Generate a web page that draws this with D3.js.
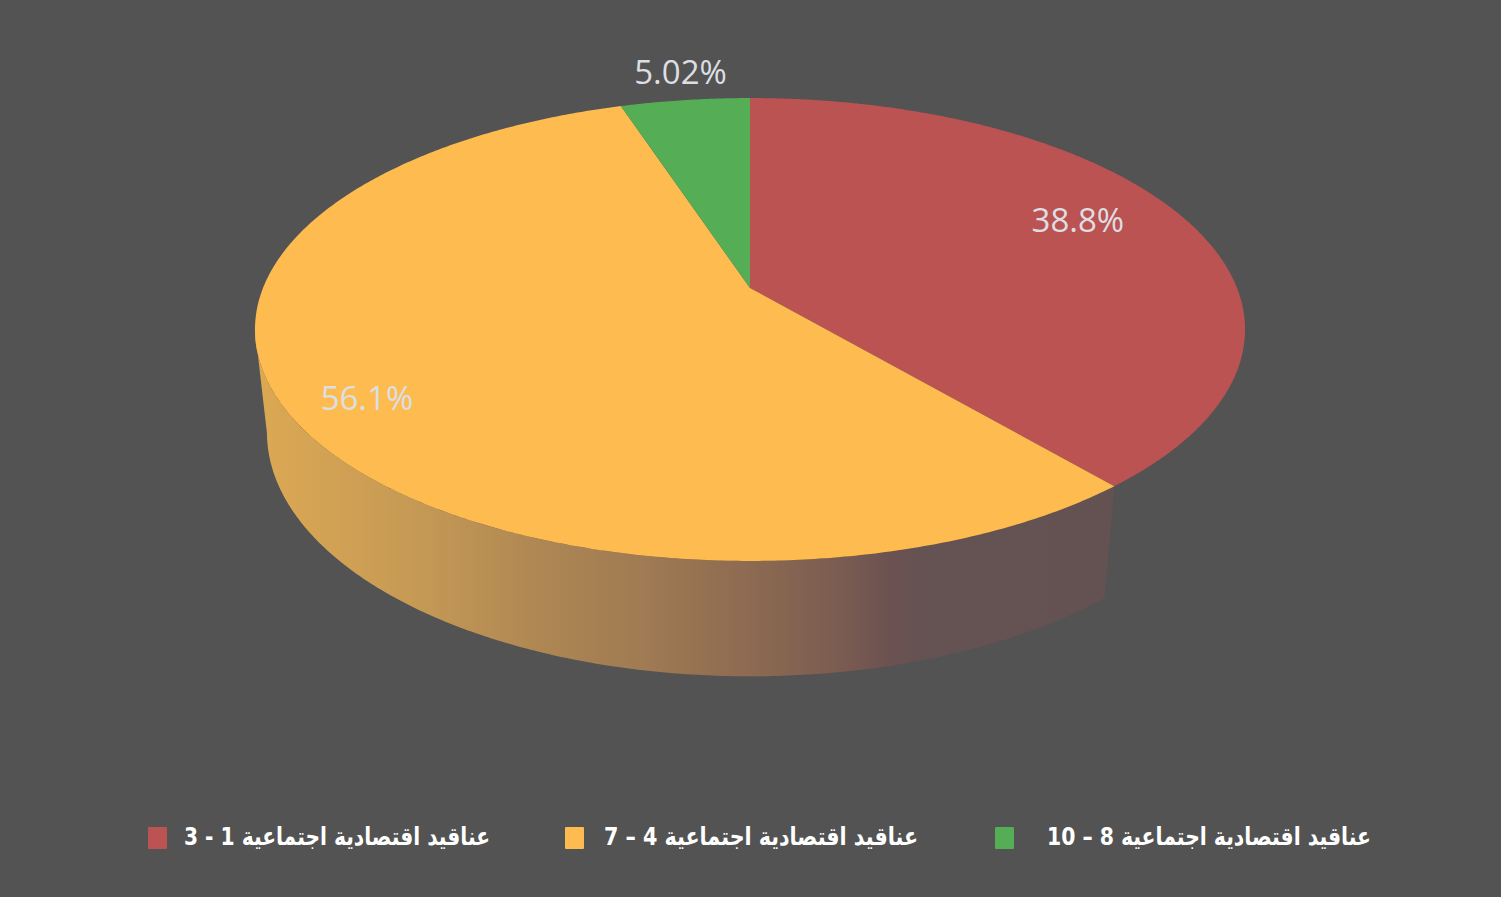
<!DOCTYPE html>
<html lang="ar">
<head>
<meta charset="utf-8">
<title>عناقيد اقتصادية اجتماعية</title>
<script src="https://cdn.jsdelivr.net/npm/d3@7/dist/d3.min.js"></script>
<style>
  html, body { margin: 0; padding: 0; background: #535353; overflow: hidden; }
  svg { display: block; }
</style>
</head>
<body>
<script>
// Share of each socio-economic cluster group
const categories = [
  "عناقيد اقتصادية اجتماعية 1 - 3",
  "عناقيد اقتصادية اجتماعية 4 – 7",
  "عناقيد اقتصادية اجتماعية 8 – 10"
];
const shares = [38.8, 56.1, 5.02];
const shareLabels = ["38.8%", "56.1%", "5.02%"];
const sliceColors = ["#bc5353", "#fdbb50", "#55ae55"];

const W = 1501, H = 897;
const svg = d3.select("body").append("svg").attr("width", W).attr("height", H);
svg.append("rect").attr("width", W).attr("height", H).attr("fill", "#535353");

// Perspective camera for the tilted disc: apex, disc radii, foreshortening,
// and the extra depth applied to the underside of the cylinder.
const cam = { cx: 750, cy: 288, rx: 487, ry: 224, k: 0.1793, drop: 104, m: 0.024 };

// Projects polar disc coordinates (clockwise from 12 o'clock) to the screen.
function project(theta, r = 1, z = 0) {
  const u = r * Math.sin(theta), v = r * Math.cos(theta);
  const w = 1 + cam.k * v + cam.m * z;
  return [cam.cx + cam.rx * u / w, cam.cy + (-cam.ry * v + cam.drop * z) / w];
}

const arcs = d3.pie().sort(null).value(d => d)(shares);
const TAU = Math.PI * 2;

function rim(a0, a1, z = 0) {
  const n = Math.max(2, Math.ceil((a1 - a0) / (TAU / 720)));
  return d3.range(n + 1).map(i => project(a0 + (a1 - a0) * i / n, 1, z));
}
const line = d3.line();

// Wall shading runs horizontally across the visible side of the large slice.
const wallStops = [
  [255, "#dca853"], [330, "#d2a254"], [420, "#c59955"], [530, "#b08853"],
  [640, "#a07b53"], [750, "#8d6a51"], [840, "#7a5c51"], [890, "#6c5151"],
  [920, "#655252"], [1113, "#645252"]
];
const x0 = wallStops[0][0], x1 = wallStops[wallStops.length - 1][0];
const grad = svg.append("defs").append("linearGradient")
  .attr("id", "wallShade").attr("gradientUnits", "userSpaceOnUse")
  .attr("x1", x0).attr("x2", x1).attr("y1", 0).attr("y2", 0);
grad.selectAll("stop").data(wallStops).join("stop")
  .attr("offset", d => (d[0] - x0) / (x1 - x0))
  .attr("stop-color", d => d[1]);

// The side wall is visible from the slice's lower edge to the left silhouette.
const wallEnd = Math.PI * 1.5 - Math.asin(cam.k);
const wallStart = arcs[1].startAngle;
const wallPts = rim(wallStart, wallEnd, 0).concat(rim(wallStart, wallEnd, 1).reverse());
svg.append("path").attr("d", line(wallPts) + "Z").attr("fill", "url(#wallShade)");

// Top face slices
svg.selectAll("path.slice").data(arcs).join("path")
  .attr("class", "slice")
  .attr("d", d => line([[cam.cx, cam.cy], ...rim(d.startAngle, d.endAngle)]) + "Z")
  .attr("fill", (d, i) => sliceColors[i]);

// Percentage labels placed along each slice's bisector
const labelRadius = [0.75, 0.835, 1.1];
const labelLift = [-13, 12, -12];
svg.selectAll("text.share").data(arcs).join("text")
  .attr("class", "share")
  .attr("transform", (d, i) => {
    const p = project((d.startAngle + d.endAngle) / 2, labelRadius[i]);
    return `translate(${p[0] + (i === 2 ? 1 : 0)},${p[1] + labelLift[i]})`;
  })
  .attr("text-anchor", "middle")
  .attr("dy", "0.36em")
  .attr("font-family", "'Open Sans', sans-serif")
  .attr("font-size", 33)
  .attr("fill", "#dcdfe2")
  .text((d, i) => shareLabels[i]);

// Legend row
const legendX = [148, 565, 995];
const legendTextRight = [490, 918, 1371];
const legendTextWidth = [306, 314, 324];
const legend = svg.selectAll("g.key").data(categories).join("g").attr("class", "key");
legend.append("rect")
  .attr("x", (d, i) => legendX[i]).attr("y", 827)
  .attr("width", 19).attr("height", 22).attr("rx", 1)
  .attr("fill", (d, i) => sliceColors[i]);
legend.append("text")
  .attr("x", (d, i) => legendTextRight[i] - legendTextWidth[i] / 2)
  .attr("y", 845)
  .attr("direction", "rtl")
  .attr("text-anchor", "middle")
  .attr("font-family", "'DejaVu Sans Condensed', 'DejaVu Sans', sans-serif")
  .attr("font-weight", "bold")
  .attr("font-size", 25)
  .attr("textLength", (d, i) => legendTextWidth[i])
  .attr("lengthAdjust", "spacingAndGlyphs")
  .attr("fill", "#ffffff")
  .text(d => d);
</script>
</body>
</html>
